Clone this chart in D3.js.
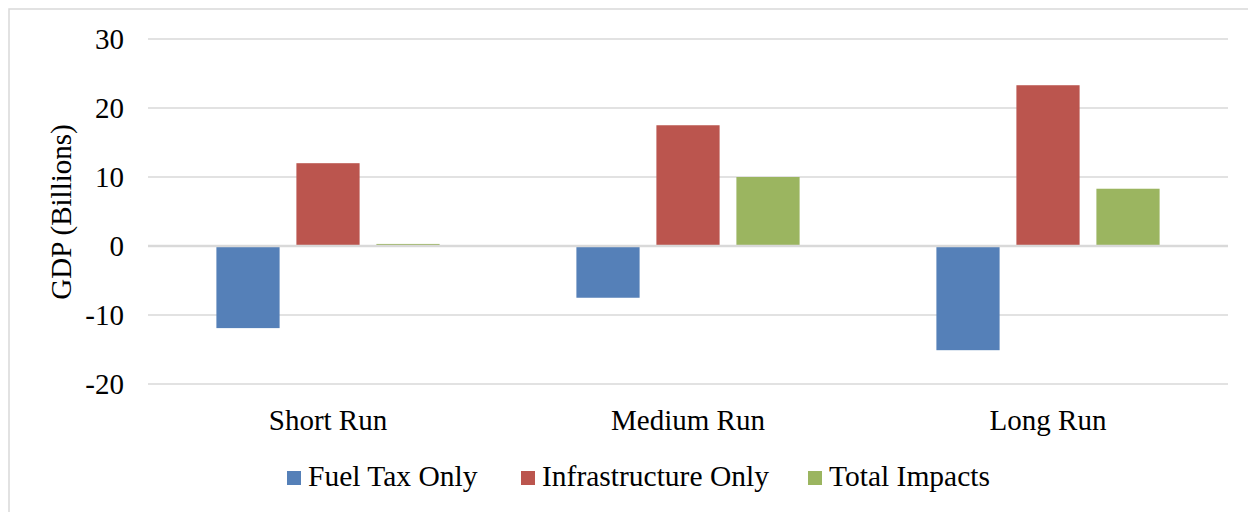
<!DOCTYPE html>
<html>
<head>
<meta charset="utf-8">
<script src="https://cdn.jsdelivr.net/npm/d3@7"></script>
<style>
  html, body { margin: 0; padding: 0; background: #ffffff; }
  svg { display: block; }
  svg text { font-family: "Times New Roman", "Liberation Serif", Tinos, "DejaVu Serif", serif; fill: #000; }
</style>
</head>
<body>
<svg id="chart" width="1248" height="512"></svg>
<script>
const categories = ["Short Run", "Medium Run", "Long Run"];
const seriesNames = ["Fuel Tax Only", "Infrastructure Only", "Total Impacts"];
const fuelTaxOnly = [-11.9, -7.5, -15.1];
const infrastructureOnly = [12.0, 17.5, 23.3];
const totalImpacts = [0.3, 10.0, 8.3];
const yTicks = [-20, -10, 0, 10, 20, 30];
const colors = ["#5580b8", "#bb554e", "#9bb560"];

const seriesValues = [fuelTaxOnly, infrastructureOnly, totalImpacts];
const data = categories.map((c, i) => ({
  category: c,
  values: seriesNames.map((s, j) => ({ series: s, value: seriesValues[j][i], color: colors[j] }))
}));

const FONT = '"Times New Roman", "Liberation Serif", Tinos, "DejaVu Serif", serif';
const svg = d3.select("#chart").attr("font-family", FONT);
const left = 148, right = 1228;

// outer frame
svg.append("rect").attr("x", 9).attr("y", 9).attr("width", 1260).attr("height", 520)
  .attr("fill", "none").attr("stroke", "#d9d9d9").attr("stroke-width", 1.5);

const y = d3.scaleLinear().domain([-20, 30]).range([384, 39]);
const x0 = d3.scaleBand().domain(categories).range([left, right]).paddingInner(0.38).paddingOuter(0.19);
const x1 = d3.scaleBand().domain(seriesNames).range([0, x0.bandwidth()]).paddingInner(0.21).paddingOuter(0);

// gridlines
svg.append("g").selectAll("line").data(yTicks.filter(t => t !== 0)).join("line")
  .attr("x1", left).attr("x2", right)
  .attr("y1", d => y(d)).attr("y2", d => y(d))
  .attr("stroke", "#d9d9d9").attr("stroke-width", 1.5);

// y tick labels
svg.append("g").selectAll("text").data(yTicks).join("text")
  .attr("x", 124).attr("y", d => y(d))
  .attr("dy", "0.35em")
  .attr("text-anchor", "end")
  .attr("font-size", 29)
  .text(d => d);

// bars
const groups = svg.append("g").selectAll("g").data(data).join("g")
  .attr("transform", d => `translate(${x0(d.category)},0)`);
groups.selectAll("rect").data(d => d.values).join("rect")
  .attr("x", d => x1(d.series))
  .attr("width", x1.bandwidth())
  .attr("y", d => y(Math.max(0, d.value)))
  .attr("height", d => Math.abs(y(d.value) - y(0)))
  .attr("fill", d => d.color);

// zero line
svg.append("line").attr("x1", left).attr("x2", right)
  .attr("y1", y(0)).attr("y2", y(0))
  .attr("stroke", "#d9d9d9").attr("stroke-width", 2.5);

// category labels
svg.append("g").selectAll("text").data(categories).join("text")
  .attr("x", d => x0(d) + x0.bandwidth() / 2)
  .attr("y", 430)
  .attr("text-anchor", "middle")
  .attr("font-size", 29)
  .text(d => d);

// y axis title
svg.append("text")
  .attr("transform", "translate(71,212) rotate(-90)")
  .attr("text-anchor", "middle")
  .attr("font-size", 29)
  .text("GDP (Billions)");

// legend
const legendX = [287, 521, 808];
const legend = svg.append("g").selectAll("g").data(seriesNames).join("g")
  .attr("transform", (d, i) => `translate(${legendX[i]},0)`);
legend.append("rect").attr("x", 0).attr("y", 471).attr("width", 14).attr("height", 14)
  .attr("fill", (d, i) => colors[i]);
legend.append("text").attr("x", 21).attr("y", 486)
  .attr("font-size", 29.5)
  .text(d => d);
</script>
</body>
</html>
